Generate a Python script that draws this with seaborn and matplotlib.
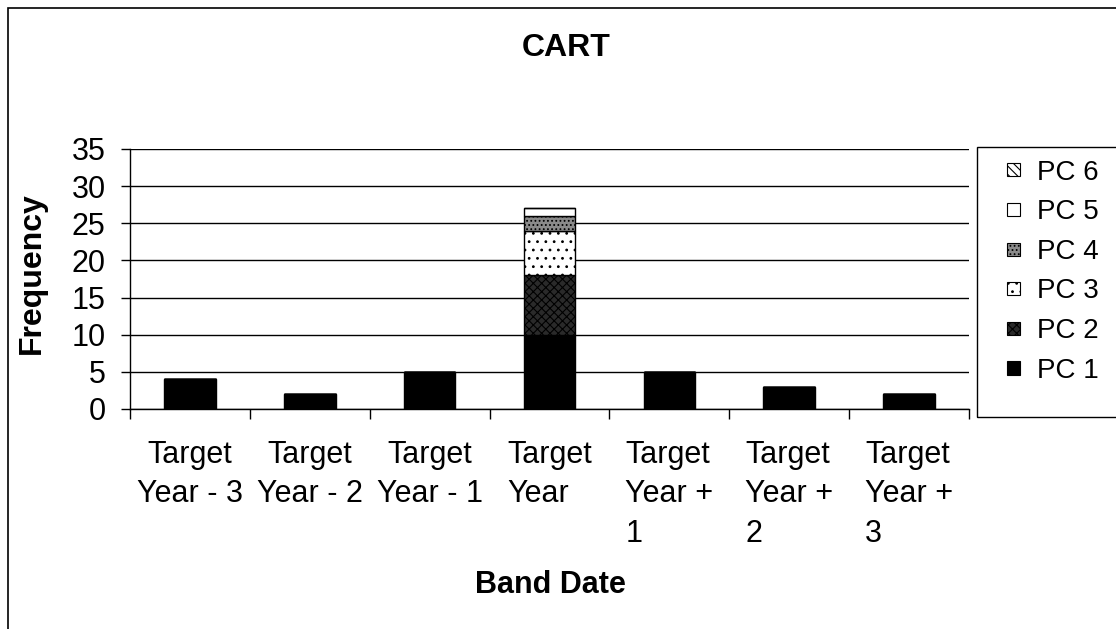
import numpy as np
import pandas as pd
import matplotlib
matplotlib.use("Agg")
import matplotlib.pyplot as plt
import seaborn as sns
from matplotlib.patches import Patch, Rectangle
from matplotlib.legend_handler import HandlerPatch

categories = ["Target\nYear - 3", "Target\nYear - 2", "Target\nYear - 1", "Target\nYear",
              "Target\nYear +\n1", "Target\nYear +\n2", "Target\nYear +\n3"]
series_names = ["PC 1", "PC 2", "PC 3", "PC 4", "PC 5", "PC 6"]
pc1 = [4, 2, 5, 10, 5, 3, 2]
pc2 = [0, 0, 0, 8, 0, 0, 0]
pc3 = [0, 0, 0, 6, 0, 0, 0]
pc4 = [0, 0, 0, 2, 0, 0, 0]
pc5 = [0, 0, 0, 1, 0, 0, 0]
pc6 = [0, 0, 0, 0, 0, 0, 0]
yticks = [0, 5, 10, 15, 20, 25, 30, 35]

sns.set_style("white")
plt.rcParams['font.family'] = ['Liberation Sans', 'DejaVu Sans']
plt.rcParams['hatch.linewidth'] = 0.8
for k in ['text.color', 'axes.labelcolor', 'xtick.color', 'ytick.color']:
    plt.rcParams[k] = 'black'

styles = [
    dict(color="black", hatch=None),
    dict(color="#2a2a2a", hatch="xxxx"),
    dict(color="white", hatch=".."),
    dict(color="#8a8a8a", hatch="...."),
    dict(color="white", hatch=None),
    dict(color="white", hatch="\\\\\\\\"),
]

fig = plt.figure(figsize=(11.16, 6.29), dpi=100)
ax = fig.add_axes([130/1116, 1-409/629, (969-130)/1116, (409-149)/629])

series = [pc1, pc2, pc3, pc4, pc5, pc6]
bottom = np.zeros(len(categories))
for name, vals, st in zip(series_names, series, styles):
    df = pd.DataFrame({"cat": categories, "val": vals})
    sns.barplot(data=df, x="cat", y="val", ax=ax, order=categories,
                color=st["color"], saturation=1, errorbar=None, width=0.43,
                bottom=bottom, edgecolor="black", linewidth=1.0,
                hatch=st["hatch"])
    bottom = bottom + np.array(vals)

ax.set_ylim(0, 35)
ax.set_yticks(yticks)
ax.set_xlim(-0.5, len(categories) - 0.5)
ax.yaxis.grid(True, color="black", linewidth=1.0)
ax.set_axisbelow(True)
for s in ["top", "right"]:
    ax.spines[s].set_visible(False)
for s in ["left", "bottom"]:
    ax.spines[s].set_color("black")
    ax.spines[s].set_linewidth(1.0)

ax.set_xticks(np.arange(-0.5, len(categories), 1.0))
ax.set_xticklabels([])
ax.set_xticks(np.arange(len(categories)), minor=True)
labels = ax.set_xticklabels(categories, minor=True, fontsize=22, ha="center", va="top",
                            multialignment="left", linespacing=1.42)
for lab in labels:
    if "-" in lab.get_text():
        lab.set_multialignment("center")
ax.tick_params(axis="x", which="major", direction="out", length=7.5, width=1, color="black", bottom=True)
ax.tick_params(axis="x", which="minor", length=0, pad=22)
ax.tick_params(axis="y", direction="out", length=6.5, width=1, color="black", left=True,
               labelsize=22, pad=11)
ax.set_xlabel("")
ax.set_ylabel("")

fig.text(32/1116, 1-273/629, "Frequency", rotation=90, fontsize=23, fontweight="bold",
         ha="center", va="center")
fig.text(550/1116, 1-585/629, "Band Date", fontsize=22, fontweight="bold",
         ha="center", va="center")
fig.text(566/1116, 1-48/629, "CART", fontsize=23, fontweight="bold",
         ha="center", va="center")


class SquareHandler(HandlerPatch):
    def create_artists(self, legend, orig_handle, xdescent, ydescent, width, height, fontsize, trans):
        s = 9.4
        p = Rectangle((width - s - xdescent, (height - s) / 2 - ydescent), s, s,
                      facecolor=orig_handle.get_facecolor(), edgecolor="black",
                      hatch=orig_handle.get_hatch(), linewidth=0.8)
        p.set_transform(trans)
        return [p]


handles = [Patch(facecolor=st["color"], edgecolor="black", hatch=st["hatch"], label=n)
           for n, st in zip(series_names, styles)][::-1]
leg = fig.legend(handles=handles, loc="upper left", bbox_to_anchor=(977/1116, 1-138/629),
                 frameon=False, fontsize=20, handlelength=0.77, handleheight=0.7,
                 handletextpad=0.61, labelspacing=0.49, borderpad=0.78, borderaxespad=0,
                 handler_map={Patch: SquareHandler()})

# legend frame (runs past the right edge, as in the reference)
fig.add_artist(Rectangle((977/1116, 1-417/629), 0.3, 270/629, transform=fig.transFigure,
                         fill=False, edgecolor="black", linewidth=1.0))
# outer chart border
fig.add_artist(Rectangle((8/1116, -0.1), 1.2, 1 - 8/629 + 0.1, transform=fig.transFigure,
                         fill=False, edgecolor="black", linewidth=1.2))

fig.savefig("out.png", dpi=100)
